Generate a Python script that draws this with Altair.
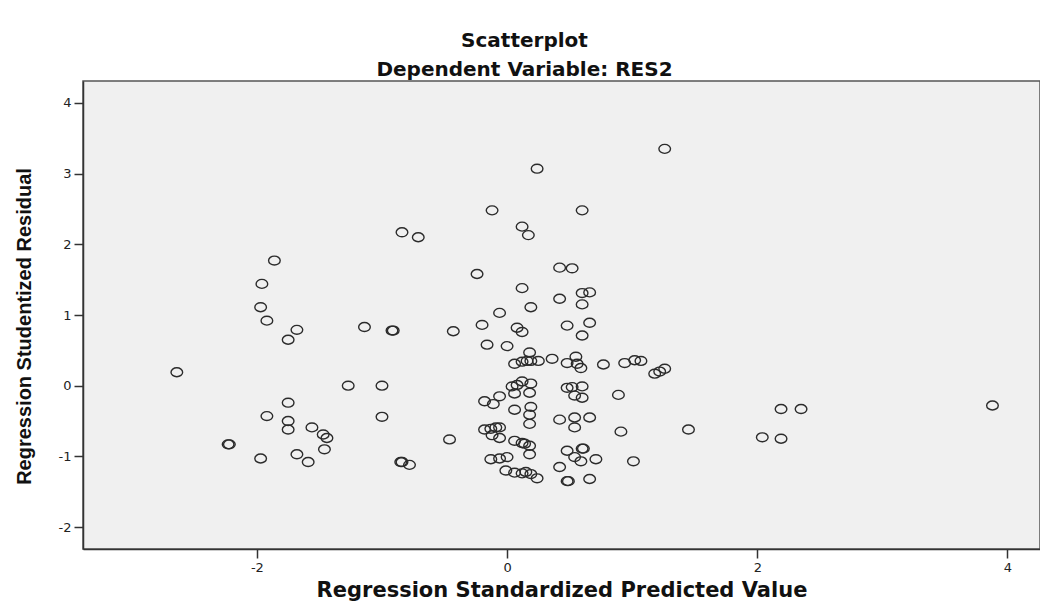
import altair as alt
import pandas as pd

# Regression Standardized Predicted Value (x) and Studentized Residual (y)
pred = [
    -0.84, -1.86, -1.96, -1.97, 1.26, 0.24, -0.12, 0.60, 0.12, 0.17,
    -0.71, -0.24, 0.42, 0.52, 0.12, 0.60, 0.66, 0.42, 0.60, 0.19,
    -0.06, -1.92, -1.68, -1.75, -1.14, -0.92, -0.91, -2.64, -1.27, -1.00,
    -1.75, -1.92, -1.75, -1.75, -1.56, -1.47, -1.44, -1.00, -2.23, -2.22,
    -1.97, -1.68, -1.59, -1.46, -0.85, -0.84, -0.78, -0.43, -0.20, 0.08,
    0.12, 0.48, 0.66, 0.60, -0.16, 0.00, 0.18, 0.06, 0.12, 0.16,
    0.19, 0.25, 0.36, 0.48, 0.55, 0.56, 0.59, 0.77, 0.94, 1.02,
    1.07, 1.18, 1.22, 1.26, 0.04, 0.08, 0.12, 0.19, 0.18, 0.06,
    -0.06, -0.18, -0.11, 0.06, 0.19, 0.18, 0.18, 0.48, 0.52, 0.60,
    0.54, 0.60, 0.89, 0.42, 0.54, 0.54, 0.66, 0.91, 1.45, -0.46,
    -0.18, -0.13, -0.09, -0.06, -0.12, -0.06, 0.06, 0.12, 0.14, 0.18,
    0.18, 0.48, 0.60, 0.61, 0.54, 0.59, 0.71, 1.01, -0.13, -0.06,
    0.00, 0.42, -0.01, 0.06, 0.12, 0.15, 0.19, 0.24, 0.48, 0.49,
    0.66, 2.19, 2.35, 2.04, 2.19, 3.88,
]
resid = [
    2.17, 1.77, 1.44, 1.11, 3.35, 3.07, 2.48, 2.48, 2.25, 2.13,
    2.10, 1.58, 1.67, 1.66, 1.38, 1.31, 1.32, 1.23, 1.15, 1.11,
    1.03, 0.92, 0.79, 0.65, 0.83, 0.78, 0.78, 0.19, 0.00, 0.00,
    -0.24, -0.43, -0.50, -0.62, -0.59, -0.69, -0.74, -0.44, -0.83, -0.83,
    -1.03, -0.97, -1.08, -0.90, -1.08, -1.08, -1.12, 0.77, 0.86, 0.82,
    0.76, 0.85, 0.89, 0.71, 0.58, 0.56, 0.47, 0.31, 0.34, 0.35,
    0.35, 0.35, 0.38, 0.32, 0.41, 0.31, 0.25, 0.30, 0.32, 0.36,
    0.35, 0.17, 0.20, 0.24, -0.01, 0.01, 0.06, 0.03, -0.10, -0.11,
    -0.15, -0.22, -0.26, -0.34, -0.30, -0.41, -0.54, -0.03, -0.02, -0.01,
    -0.14, -0.17, -0.13, -0.48, -0.45, -0.59, -0.45, -0.65, -0.62, -0.76,
    -0.62, -0.61, -0.59, -0.59, -0.70, -0.74, -0.78, -0.81, -0.82, -0.85,
    -0.97, -0.92, -0.89, -0.89, -1.01, -1.07, -1.04, -1.07, -1.04, -1.03,
    -1.01, -1.15, -1.20, -1.23, -1.24, -1.22, -1.25, -1.31, -1.35, -1.35,
    -1.32, -0.33, -0.33, -0.73, -0.75, -0.28,
]

x_ticks = [-2, 0, 2, 4]
y_ticks = [-2, -1, 0, 1, 2, 3, 4]

df = pd.DataFrame({"pred": pred, "resid": resid})

ellipse = ("M1.3,0 C1.3,0.5523 0.718,1 0,1 C-0.718,1 -1.3,0.5523 -1.3,0 "
           "C-1.3,-0.5523 -0.718,-1 0,-1 C0.718,-1 1.3,-0.5523 1.3,0 Z")

chart = (
    alt.Chart(df)
    .mark_point(shape=ellipse, filled=False, size=80, stroke="#2b2b2b",
                strokeWidth=1.4, opacity=1)
    .encode(
        x=alt.X("pred:Q",
                scale=alt.Scale(domain=[-3.39, 4.26], nice=False, zero=False),
                axis=alt.Axis(title="Regression Standardized Predicted Value",
                              values=x_ticks, titlePadding=5,
                              labelExpr="'' + datum.value",
                              titleFont="DejaVu Sans", titleFontSize=21)),
        y=alt.Y("resid:Q",
                scale=alt.Scale(domain=[-2.31, 4.31], nice=False, zero=False),
                axis=alt.Axis(title="Regression Studentized Residual",
                              values=y_ticks, titlePadding=24, titleY=245,
                              labelExpr="'' + datum.value",
                              titleFont="Liberation Sans",
                              titleFontSize=20)),
    )
    .properties(
        width=957,
        height=468,
        padding={"left": 75, "top": 73, "right": 0, "bottom": 55},
        autosize=alt.AutoSizeParams(type="none"),
        background="white",
        title=alt.TitleParams(
            text="Scatterplot",
            subtitle="Dependent Variable: RES2",
            anchor="middle",
            dx=-37,
            offset=1,
            font="DejaVu Sans",
            fontSize=20,
            fontWeight="bold",
            subtitleFont="DejaVu Sans",
            subtitleFontSize=20,
            subtitleFontWeight="bold",
            subtitleColor="#111",
            subtitlePadding=9,
            color="#111",
        ),
    )
    .configure_view(fill="#F0F0F0", stroke="#555", strokeWidth=1.5)
    .configure_axis(
        grid=False,
        domainColor="#333",
        domainWidth=1.5,
        tickColor="#333",
        tickWidth=1.5,
        tickSize=9,
        labelFont="DejaVu Sans",
        labelFontSize=13,
        labelColor="#222",
        labelPadding=3,
        titleColor="#111",
        titleFontWeight="bold",
    )
)

chart.save("out.html", embed_options={"renderer": "svg", "actions": False})
